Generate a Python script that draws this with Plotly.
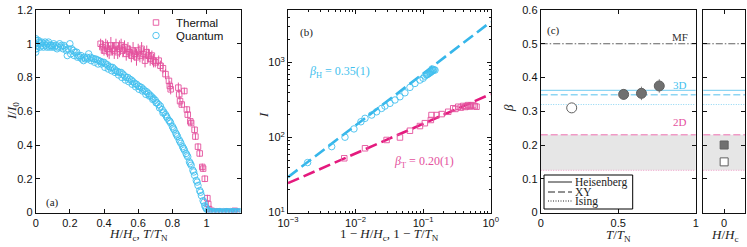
import plotly.graph_objects as go

# ---------------- data ----------------
# panel (a): quantum (field sweep)  H/Hc , I/I0
quantum_x = [0, 0, 0, 0, 0.00, 0.01, 0.02, 0.03, 0.04, 0.05, 0.06, 0.07, 0.08, 0.09, 0.10, 0.11, 0.12, 0.13, 0.14, 0.15,
             0.16, 0.17, 0.18, 0.19, 0.20, 0.21, 0.22, 0.23, 0.24, 0.25, 0.26, 0.27, 0.28, 0.29, 0.30, 0.31, 0.32, 0.33,
             0.34, 0.35, 0.36, 0.37, 0.38, 0.39, 0.40, 0.41, 0.42, 0.43, 0.44, 0.45, 0.46, 0.47, 0.48, 0.49, 0.50, 0.51,
             0.52, 0.53, 0.54, 0.55, 0.56, 0.57, 0.58, 0.59, 0.60, 0.61, 0.62, 0.63, 0.64, 0.65, 0.66, 0.67, 0.68, 0.69,
             0.70, 0.71, 0.72, 0.73, 0.74, 0.75, 0.76, 0.77, 0.78, 0.79, 0.80, 0.81, 0.82, 0.83, 0.84, 0.85, 0.86, 0.87,
             0.88, 0.89, 0.90, 0.91, 0.92, 0.93, 0.94, 0.95, 0.96, 0.97, 0.98, 0.99, 1.00, 1.01,
             0.005, 0.015, 0.025, 0.035, 0.045, 0.055, 0.065, 0.075, 0.085, 0.095, 0.105, 0.125, 0.145, 0.165, 0.185,
             0.205, 0.225, 0.245, 0.265, 0.285, 0.305, 0.325, 0.345, 0.365, 0.385, 0.405, 0.425, 0.445, 0.465, 0.485,
             0.505, 0.525, 0.545, 0.565, 0.585, 0.605, 0.625, 0.645, 0.665, 0.685, 0.705, 0.725, 0.745, 0.765, 0.785,
             0.805, 0.825, 0.845, 0.865, 0.885, 0.905, 0.925, 0.945, 0.965, 0.985, 0.995,
             1.02, 1.03, 1.04, 1.05, 1.06, 1.07, 1.08, 1.09, 1.10, 1.11, 1.12, 1.13, 1.14, 1.15, 1.16, 1.17, 1.18, 1.19,
             1.015, 1.035, 1.055, 1.075, 1.095, 1.115, 1.135, 1.155, 1.175, 1.195]
quantum_y = [0.95, 0.97, 1.02, 1.03, 1.00, 0.99, 1.01, 1.00, 0.99, 1.00, 0.99, 1.00, 0.98, 0.99, 0.99, 0.98, 0.99, 0.98, 1.00, 0.99,
             0.97, 0.98, 0.96, 0.97, 1.00, 0.97, 0.96, 0.95, 0.95, 0.93, 0.92, 0.91, 0.90, 0.91, 0.92, 0.94, 0.92, 0.915,
             0.91, 0.91, 0.905, 0.90, 0.895, 0.89, 0.89, 0.88, 0.875, 0.865, 0.86, 0.86, 0.85, 0.84, 0.835, 0.83, 0.83, 0.82,
             0.81, 0.80, 0.80, 0.79, 0.785, 0.775, 0.765, 0.76, 0.75, 0.745, 0.74, 0.73, 0.72, 0.715, 0.705, 0.695, 0.685, 0.675,
             0.665, 0.65, 0.64, 0.63, 0.61, 0.595, 0.58, 0.56, 0.545, 0.53, 0.51, 0.49, 0.47, 0.45, 0.43, 0.41, 0.39, 0.37,
             0.35, 0.33, 0.30, 0.28, 0.25, 0.22, 0.19, 0.16, 0.13, 0.10, 0.07, 0.04, 0.02, 0.01,
             0.97, 1.02, 0.98, 1.01, 0.98, 1.01, 0.98, 1.01, 0.99, 0.98, 1.00, 0.97, 0.98, 0.99, 0.93,
             0.94, 0.93, 0.92, 0.93, 0.92, 0.91, 0.90, 0.89, 0.88, 0.88, 0.86, 0.85, 0.84, 0.83, 0.815,
             0.80, 0.785, 0.775, 0.76, 0.745, 0.73, 0.72, 0.70, 0.69, 0.67, 0.65, 0.62, 0.59, 0.57, 0.54,
             0.50, 0.46, 0.42, 0.38, 0.34, 0.29, 0.24, 0.18, 0.12, 0.06, 0.03,
             0.005, 0.0, 0.005, 0.0, 0.005, 0.0, 0.005, 0.0, 0.005, 0.0, 0.005, 0.0, 0.005, 0.0, 0.005, 0.0, 0.005, 0.0,
             0.01, 0.005, 0.0, 0.005, 0.0, 0.005, 0.0, 0.005, 0.0, 0.005]

# panel (a): thermal (temperature sweep)  T/TN , I/I0 , error
thermal_x = [0.38, 0.39, 0.40, 0.41, 0.42, 0.43, 0.44, 0.45, 0.46, 0.47, 0.48, 0.49, 0.50, 0.51, 0.52, 0.53, 0.54,
             0.55, 0.56, 0.57, 0.58, 0.59, 0.60, 0.61, 0.62, 0.63, 0.64, 0.65, 0.66, 0.67, 0.68, 0.69, 0.70, 0.72,
             0.73, 0.745, 0.76, 0.78, 0.785, 0.79, 0.835, 0.84, 0.845, 0.855, 0.87, 0.885, 0.89, 0.905, 0.91, 0.93,
             0.935, 0.95, 0.96, 0.975, 0.98, 0.99, 1.005, 1.01, 1.015, 1.03, 1.05, 1.07, 1.09, 1.11, 1.13, 1.15,
             1.165, 1.175]
thermal_y = [1.00, 0.98, 0.96, 0.99, 0.97, 0.95, 0.99, 0.97, 0.96, 0.99, 0.95, 0.97, 0.99, 0.96, 0.98, 0.94, 0.97,
             0.95, 0.93, 0.96, 0.94, 0.92, 0.96, 0.93, 0.97, 0.94, 0.90, 0.95, 0.93, 0.91, 0.93, 0.90, 0.89, 0.90,
             0.87, 0.855, 0.82, 0.78, 0.75, 0.73, 0.74, 0.70, 0.66, 0.64, 0.72, 0.61, 0.58, 0.54, 0.53, 0.49,
             0.45, 0.39, 0.35, 0.27, 0.26, 0.20, 0.085, 0.05, 0.02, 0.01, 0.005, 0.005, 0.0, 0.005, 0.005, 0.0,
             0.01, 0.005]
thermal_err = [0.03, 0.04, 0.03, 0.04, 0.05, 0.04, 0.05, 0.04, 0.05, 0.04, 0.04, 0.05, 0.04, 0.04, 0.04, 0.04, 0.04,
               0.04, 0.04, 0.05, 0.04, 0.05, 0.04, 0.04, 0.04, 0.04, 0.04, 0.04, 0.04, 0.04, 0.03, 0.04, 0.03, 0.03,
               0.03, 0.03, 0.03, 0.03, 0.03, 0.03, 0.03, 0.03, 0.03, 0.02, 0.02, 0.02, 0.02, 0.02, 0.02, 0.02,
               0.02, 0.02, 0.02, 0.02, 0.02, 0.02, 0.02, 0.02, 0.02, 0.01, 0.01, 0.01, 0.01, 0.01, 0.01, 0.01,
               0.01, 0.01]

# panel (b): log-log intensity
field_red_x = [0.00195, 0.00443, 0.00697, 0.00946, 0.0120, 0.0138, 0.0173, 0.0205, 0.0243, 0.0272, 0.0323, 0.0383,
               0.0454, 0.0538, 0.0638, 0.0757, 0.0897, 0.100, 0.106, 0.112, 0.118, 0.122, 0.126, 0.130, 0.134,
               0.138, 0.141, 0.145, 0.150, 0.115, 0.128, 0.136]
field_I = [46.3, 75.5, 100.8, 130, 162, 180, 199, 220, 244, 262, 285, 316,
           349, 394, 465, 525, 582, 615, 658, 680, 700, 715, 727, 745, 760,
           775, 790, 800, 790, 690, 760, 820]
temp_red_x = [0.0068, 0.0138, 0.0288, 0.0454, 0.0638, 0.0897, 0.106, 0.130, 0.133, 0.158, 0.188, 0.235, 0.279,
              0.300, 0.331, 0.360, 0.392, 0.420, 0.440, 0.465, 0.490, 0.510, 0.551, 0.580, 0.617]
temp_I = [52.8, 71.8, 92.6, 100, 123, 142, 155, 171, 199, 199, 205, 220, 245,
          240, 257, 250, 263, 255, 262, 270, 258, 265, 270, 262, 257]
fit_x = [1e-3, 1.0]
fit_field_I = [29.6, 3470]
fit_temp_I = [24.6, 379]

# panel (c): exponents
beta_T = [0.20, 0.535, 0.65, 0.765]
beta_val = [0.31, 0.350, 0.353, 0.375]
beta_err = [0.0, 0.015, 0.02, 0.02]
beta_fill = ["white", "#707070", "#707070", "#707070"]
beta_H_x = [0, 0]
beta_H_val = [0.20, 0.15]
beta_H_fill = ["#707070", "white"]

theory_names = ["MF", "3D Heisenberg", "3D XY", "3D Ising", "2D XY", "2D Ising"]
theory_beta = [0.5, 0.362, 0.349, 0.32, 0.23, 0.125]
band_2d = [0.125, 0.23]

# ---------------- styling ----------------
CYAN = "#43bfee"
PINK = "#e4519d"
CYAN_D = "#36b6ea"
PINK_D = "#e41a7e"
CYAN_L = "#8dd5f3"
PINK_L = "#f09ac6"
SERIF = "Liberation Serif, Times New Roman, serif"
SANS = "Liberation Sans, Arial, sans-serif"
W, H = 747, 247


def px(X):
    return X / W


def py(Y):
    return 1 - Y / H


dom_y = [py(212.5), py(10)]
dom_a = [px(35.7), px(240.7)]
dom_b = [px(288.0), px(490.7)]
dom_c = [px(540.7), px(695.7)]
dom_d = [px(703.3), px(745.0)]

fig = go.Figure()

# (a)
fig.add_trace(go.Scatter(x=thermal_x, y=thermal_y, mode="markers", name="Thermal",
                         error_y=dict(type="data", array=thermal_err, color=PINK, thickness=1, width=0),
                         marker=dict(symbol="square-open", size=5.5, color=PINK, line=dict(width=0.9)),
                         xaxis="x", yaxis="y", legend="legend"))
fig.add_trace(go.Scatter(x=quantum_x, y=quantum_y, mode="markers", name="Quantum",
                         marker=dict(symbol="circle-open", size=6.5, color=CYAN, line=dict(width=0.9)),
                         xaxis="x", yaxis="y", legend="legend2"))

# (b)
fig.add_trace(go.Scatter(x=fit_x, y=fit_field_I, mode="lines", showlegend=False,
                         line=dict(color=CYAN_D, width=2.6, dash="12px,5px"), xaxis="x2", yaxis="y2"))
fig.add_trace(go.Scatter(x=fit_x, y=fit_temp_I, mode="lines", showlegend=False,
                         line=dict(color=PINK_D, width=2.6, dash="12px,5px"), xaxis="x2", yaxis="y2"))
fig.add_trace(go.Scatter(x=field_red_x, y=field_I, mode="markers", showlegend=False,
                         marker=dict(symbol="circle-open", size=6.5, color=CYAN, line=dict(width=0.9)),
                         xaxis="x2", yaxis="y2"))
fig.add_trace(go.Scatter(x=temp_red_x, y=temp_I, mode="markers", showlegend=False,
                         marker=dict(symbol="square-open", size=5.5, color=PINK, line=dict(width=0.9)),
                         xaxis="x2", yaxis="y2"))

# (c) reference lines as shapes
line_styles = [
    dict(color="#606060", width=1, dash="7px,2px,1.5px,2px"),
    dict(color=CYAN_L, width=1.3, dash="solid"),
    dict(color=CYAN_L, width=1.5, dash="7px,3px"),
    dict(color=CYAN_L, width=1, dash="1px,1.5px"),
    dict(color=PINK_L, width=1.5, dash="7px,3px"),
    dict(color=PINK_L, width=1, dash="1px,1.5px"),
]
shapes = []
for xr, yr in (("x3 domain", "y3"), ("x4 domain", "y4")):
    shapes.append(dict(type="rect", xref=xr, yref=yr, x0=0, x1=1, y0=band_2d[0], y1=band_2d[1],
                       fillcolor="#e6e6e6", line=dict(width=0), layer="below"))
    for b, st in zip(theory_beta, line_styles):
        shapes.append(dict(type="line", xref=xr, yref=yr, x0=0, x1=1, y0=b, y1=b, line=st, layer="below"))

fig.add_trace(go.Scatter(x=beta_T, y=beta_val, mode="markers", showlegend=False,
                         error_y=dict(type="data", array=beta_err, color="#808080", thickness=1, width=0),
                         marker=dict(symbol="circle", size=10, color=beta_fill, line=dict(color="#606060", width=1)),
                         xaxis="x3", yaxis="y3"))
fig.add_trace(go.Scatter(x=beta_H_x, y=beta_H_val, mode="markers", showlegend=False,
                         marker=dict(symbol="square", size=8, color=beta_H_fill, line=dict(color="#606060", width=1)),
                         xaxis="x4", yaxis="y4"))

# legend for (c), drawn as box with line samples
shapes.append(dict(type="rect", xref="paper", yref="paper", x0=px(544), x1=px(632.7), y0=py(209), y1=py(175),
                   line=dict(color="black", width=1), fillcolor="white", layer="above"))
leg_rows = [(182.0, "solid", "Heisenberg"), (192.0, "7px,3px", "XY"), (201.0, "1px,1.5px", "Ising")]
annotations = []
for yy, dsh, txt in leg_rows:
    shapes.append(dict(type="line", xref="paper", yref="paper", x0=px(548), x1=px(572), y0=py(yy), y1=py(yy),
                       line=dict(color="#222", width=1, dash=dsh), layer="above"))
    annotations.append(dict(x=px(573), y=py(yy), xref="paper", yref="paper", text=txt, showarrow=False,
                            xanchor="left", yanchor="middle", font=dict(family=SERIF, size=11.5, color="#222")))


def ann(X, Y, text, size=12, color="#222", angle=0, xanchor="center"):
    annotations.append(dict(x=px(X), y=py(Y), xref="paper", yref="paper", text=text, showarrow=False,
                            xanchor=xanchor, yanchor="middle", textangle=angle,
                            font=dict(family=SERIF, size=size, color=color)))


ann(53, 202, "(a)", 11)
ann(306, 32, "(b)", 11)
ann(553, 30, "(c)", 11)
ann(339, 72, "<i>β</i><sub>H</sub> = 0.35(1)", 12, CYAN)
ann(424, 162, "<i>β</i><sub>T</sub> = 0.20(1)", 12, PINK)
ann(680, 37, "MF", 11, "#333")
ann(680, 85, "3D", 11, CYAN)
ann(680, 122, "2D", 11, PINK)

ann(12, 111, "<i>I</i>/<i>I</i><sub>0</sub>", 13, angle=-90)
ann(138, 234, "<i>H</i>/<i>H</i><sub>c</sub>, <i>T</i>/<i>T</i><sub>N</sub>", 13)
ann(263, 115, "<i>I</i>", 13, angle=-90)
ann(389, 234, "1 − <i>H</i>/<i>H</i><sub>c</sub>, 1 − <i>T</i>/<i>T</i><sub>N</sub>", 13)
ann(508, 108, "<i>β</i>", 13, angle=-90)
ann(618, 235, "<i>T</i>/<i>T</i><sub>N</sub>", 13)
ann(724, 235, "<i>H</i>/<i>H</i><sub>c</sub>", 13)

common = dict(showline=True, linecolor="#111", linewidth=1, mirror="ticks", ticks="inside", ticklen=4,
              tickcolor="#111", showgrid=False, zeroline=False, automargin=False,
              tickfont=dict(family=SANS, size=11, color="#111"))

major_x = [1e-3, 1e-2, 1e-1, 1e0]
major_y = [1e1, 1e2, 1e3]
minor_x = [m * d for d in (1e-3, 1e-2, 1e-1) for m in range(2, 10)]
minor_y = [m * d for d in (1e1, 1e2, 1e3) for m in range(2, 10)]
minor_y = [v for v in minor_y if v < 5000]

leg_common = dict(xanchor="left", yanchor="top", bgcolor="rgba(0,0,0,0)",
                  font=dict(family=SANS, size=11.5, color="#111"), itemwidth=30, tracegroupgap=0)

fig.update_layout(
    width=W, height=H, margin=dict(l=0, r=0, t=0, b=0, autoexpand=False),
    paper_bgcolor="white", plot_bgcolor="white",
    xaxis=dict(common, domain=dom_a, range=[0, 1.2], tickvals=[0, 0.2, 0.4, 0.6, 0.8, 1.0], anchor="y"),
    yaxis=dict(common, domain=dom_y, range=[0, 1.2], tickvals=[0, 0.2, 0.4, 0.6, 0.8, 1.0, 1.2], anchor="x"),
    xaxis2=dict(common, domain=dom_b, type="log", range=[-3, 0], anchor="y2",
                tickvals=major_x, ticktext=["10<sup>−3</sup>", "10<sup>−2</sup>", "10<sup>−1</sup>", "10<sup>0</sup>"],
                minor=dict(ticks="inside", ticklen=2, tickcolor="#111", tickvals=minor_x, showgrid=False)),
    yaxis2=dict(common, domain=dom_y, type="log", range=[1, 3.699], anchor="x2",
                tickvals=major_y, ticktext=["10<sup>1</sup>", "10<sup>2</sup>", "10<sup>3</sup>"],
                minor=dict(ticks="inside", ticklen=2, tickcolor="#111", tickvals=minor_y, showgrid=False)),
    xaxis3=dict(common, domain=dom_c, range=[0, 1], tickvals=[0, 0.5, 1], anchor="y3"),
    yaxis3=dict(common, domain=dom_y, range=[0, 0.6], tickvals=[0, 0.1, 0.2, 0.3, 0.4, 0.5, 0.6], anchor="x3"),
    xaxis4=dict(common, domain=dom_d, range=[-1, 1], tickvals=[0], anchor="y4"),
    yaxis4=dict(common, domain=dom_y, range=[0, 0.6], tickvals=[0, 0.1, 0.2, 0.3, 0.4, 0.5, 0.6],
                showticklabels=False, anchor="x4"),
    legend=dict(leg_common, x=px(136), y=py(8)),
    legend2=dict(leg_common, x=px(136), y=py(21)),
    shapes=shapes, annotations=annotations,
)

fig.write_html("out.html", config={"displayModeBar": False},
               post_script="document.body.style.margin='0';")
